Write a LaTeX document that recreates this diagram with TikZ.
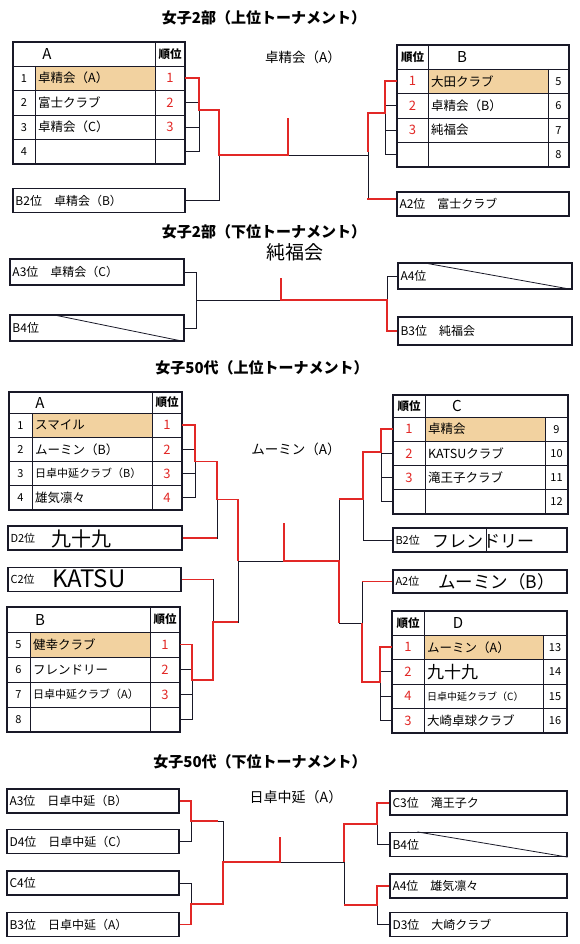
\documentclass[tikz,border=0pt]{standalone}
\usepackage{fontspec}
\setmainfont{Noto Sans CJK JP}
\usetikzlibrary{positioning}
\definecolor{ink}{RGB}{25,25,40}
\definecolor{redpen}{RGB}{226,40,38}
\definecolor{winfill}{RGB}{242,210,160}

\begin{document}
\begin{tikzpicture}[x=1pt,y=-1pt,
 frame/.style={draw=ink,line width=1.3pt},
 grid/.style={draw=ink,line width=0.9pt},
 br/.style={draw=ink,line width=0.8pt},
 hl/.style={draw=redpen,line width=1.8pt},
 slot/.style={draw=ink,line width=1.2pt,minimum height=24pt,inner xsep=2.5pt,text width=167pt,align=left,font=\fontsize{12}{14}\selectfont},
 ttl/.style={font=\fontsize{15}{17}\selectfont\bfseries},
 win/.style={font=\fontsize{13.5}{15}\selectfont},
 hand/.style={anchor=west,inner sep=0pt,font=\fontsize{19}{20}\selectfont},
 hd/.style={font=\fontsize{15}{17}\selectfont},
 rkh/.style={font=\fontsize{11.5}{13}\selectfont\bfseries},
 nm/.style={anchor=west,inner sep=0pt,font=\fontsize{12.5}{14}\selectfont},
 no/.style={font=\fontsize{11}{13}\selectfont},
 rk/.style={text=redpen,font=\fontsize{13}{15}\selectfont}]
\fill[white] (0,0) rectangle (579,944);
\useasboundingbox (0,0) rectangle (579,944);

% ---------- 女子2部 上位 ----------
\node[ttl] (t1) at (264,18) {女子2部（上位トーナメント）};
\node[win] (w1) at (303,57) {卓精会（A）};
\begin{scope}[shift={(13,42)}]
\fill[winfill] (22,24) rectangle (142,48.5);
\foreach \y in {24,48.5,73,97.5} \draw[grid] (0,\y) -- (172,\y);
\draw[grid] (22,24) -- (22,122) (142,0) -- (142,122);
\draw[frame] (0,0) rectangle (172,122);
\node[hd] (hdA) at (34,12) {A};
\node[rkh] (hdAr) at (157,12) {順位};
\foreach \t/\r/\n [count=\i, evaluate=\i as \y using 24+24.5*(\i-0.5)] in {卓精会（A）/1/1, 富士クラブ/2/2, 卓精会（C）/3/3, {}/{}/4}{
 \node[no] (na\i) at (11,\y) {\n};
 \node[nm] (ta\i) at (25,\y) {\t};
 \node[rk] (ra\i) at (157,\y) {\r};
 \coordinate (pa\i) at (172,\y);
}
\end{scope}
\begin{scope}[shift={(397,45)}]
\fill[winfill] (31,24) rectangle (151,48.5);
\foreach \y in {24,48.5,73,97.5} \draw[grid] (0,\y) -- (172,\y);
\draw[grid] (31,0) -- (31,122) (151,24) -- (151,122);
\draw[frame] (0,0) rectangle (172,122);
\node[rkh] (hdBr) at (15.5,12) {順位};
\node[hd] (hdB) at (65,12) {B};
\foreach \t/\r/\n [count=\i, evaluate=\i as \y using 24+24.5*(\i-0.5)] in {大田クラブ/1/5, 卓精会（B）/2/6, 純福会/3/7, {}/{}/8}{
 \node[rk] (rb\i) at (15.5,\y) {\r};
 \node[nm] (tb\i) at (34,\y) {\t};
 \node[no] (nb\i) at (161.5,\y) {\n};
 \coordinate (pb\i) at (0,\y);
}
\end{scope}
\node[slot] (ub2) at (99,200.5) {B2位　卓精会（B）};
\node[slot] (ua2) at (483,204) {A2位　富士クラブ};
\coordinate (ja) at (199,110);
\coordinate (jb) at (219,155);
\coordinate (jc) at (368,155);
\coordinate (jd) at (385,113);
\coordinate (s1) at (288,155);
\foreach \i in {1,...,4} \draw[br] (pa\i) -| (ja) (pb\i) -| (jd);
\draw[br] (ja) -| (jb) (ub2.east) -| (jb) (jb) -- (jc);
\draw[br] (jd) -| (jc) ([yshift=5pt]ua2.west) -| (jc);
\draw[hl] (pa1) -| (ja) -| (jb) -- (s1) -- ++(0,-37);
\draw[hl] (pb1) -| (jd) -- (jc |- jd) -- ++(0,39);
\draw[hl] ([yshift=5pt]ua2.west) -- ++(-29,0);

% ---------- 女子2部 下位 ----------
\node[ttl] (t2) at (264,232) {女子2部（下位トーナメント）};
\node[hand,anchor=center] (w2) at (295,252) {純福会};
\node[slot,text width=169pt,minimum height=26pt] (la3) at (97,272) {A3位　卓精会（C）};
\node[slot,text width=169pt,minimum height=26pt] (lb4) at (97,328) {B4位};
\node[slot,text width=169pt,minimum height=26pt] (ra4) at (485,276) {A4位};
\node[slot,text width=169pt,minimum height=28pt] (rb3) at (485,331) {B3位　純福会};
\coordinate (k1) at (196,300);
\coordinate (k2) at (387,300);
\coordinate (s2) at (281,300);
\draw[br] (la3.east) -| (k1) (lb4.east) -| (k1) (k1) -- (k2) (ra4.west) -| (k2) (rb3.west) -| (k2);
\draw[br] ([xshift=42pt]lb4.north west) -- (lb4.south east) ([xshift=24pt]ra4.north west) -- (ra4.south east);
\draw[hl] (s2) ++(0,-22) -- (s2) -- (k2) |- (rb3.west);

% ---------- 女子50代 上位 ----------
\node[ttl] (t3) at (262,368) {女子50代（上位トーナメント）};
\node[win] (w3) at (296,449) {ムーミン（A）};
\begin{scope}[shift={(9,392)}]
\fill[winfill] (23,21) rectangle (143,45.25);
\foreach \y in {21,45.25,69.5,93.75} \draw[grid] (0,\y) -- (173,\y);
\draw[grid] (23,21) -- (23,118) (143,0) -- (143,118);
\draw[frame] (0,0) rectangle (173,118);
\node[hd] (hdA3) at (31,10.5) {A};
\node[rkh] (hdA3r) at (158,10.5) {順位};
\foreach \t/\r/\n [count=\i, evaluate=\i as \y using 21+24.25*(\i-0.5)] in {スマイル/1/1, ムーミン（B）/2/2, {\fontsize{11}{12}\selectfont 日卓中延クラブ（B）}/3/3, 雄気凛々/4/4}{
 \node[no] (nc\i) at (11.5,\y) {\n};
 \node[nm] (tc\i) at (26,\y) {\t};
 \node[rk] (rc\i) at (158,\y) {\r};
 \coordinate (pc\i) at (173,\y);
}
\end{scope}
\begin{scope}[shift={(393,395)}]
\fill[winfill] (32,22) rectangle (152,46.25);
\foreach \y in {22,46.25,70.5,94.75} \draw[grid] (0,\y) -- (175,\y);
\draw[grid] (32,0) -- (32,119) (152,22) -- (152,119);
\draw[frame] (0,0) rectangle (175,119);
\node[rkh] (hdCr) at (16,11) {順位};
\node[hd] (hdC) at (64,11) {C};
\foreach \t/\r/\n [count=\i, evaluate=\i as \y using 22+24.25*(\i-0.5)] in {卓精会/1/9, KATSUクラブ/2/10, 滝王子クラブ/3/11, {}/{}/12}{
 \node[rk] (rd\i) at (16,\y) {\r};
 \node[nm] (td\i) at (35,\y) {\t};
 \node[no] (nd\i) at (163.5,\y) {\n};
 \coordinate (pd\i) at (0,\y);
}
\end{scope}
\begin{scope}[shift={(7,607)}]
\fill[winfill] (23,25) rectangle (143,50);
\foreach \y in {25,50,75,100} \draw[grid] (0,\y) -- (173,\y);
\draw[grid] (23,25) -- (23,125) (143,0) -- (143,125);
\draw[frame] (0,0) rectangle (173,125);
\node[hd] (hdB3) at (33,12.5) {B};
\node[rkh] (hdB3r) at (158,12.5) {順位};
\foreach \t/\r/\n [count=\i, evaluate=\i as \y using 25+25*(\i-0.5)] in {健幸クラブ/1/5, フレンドリー/2/6, {\fontsize{11}{12}\selectfont 日卓中延クラブ（A）}/3/7, {}/{}/8}{
 \node[no] (ne\i) at (11.5,\y) {\n};
 \node[nm] (te\i) at (26,\y) {\t};
 \node[rk] (re\i) at (158,\y) {\r};
 \coordinate (pe\i) at (173,\y);
}
\end{scope}
\begin{scope}[shift={(392,611)}]
\fill[winfill] (32,24) rectangle (151,48.5);
\foreach \y in {24,48.5,73,97.5} \draw[grid] (0,\y) -- (175,\y);
\draw[grid] (32,0) -- (32,122) (151,24) -- (151,122);
\draw[frame] (0,0) rectangle (175,122);
\node[rkh] (hdDr) at (16,12) {順位};
\node[hd] (hdD) at (66,12) {D};
\foreach \t/\r/\n [count=\i, evaluate=\i as \y using 24+24.5*(\i-0.5)] in {ムーミン（A）/1/13, {\fontsize{17}{18}\selectfont 九十九}/2/14, {\fontsize{10}{11}\selectfont 日卓中延クラブ（C）}/4/15, 大崎卓球クラブ/3/16}{
 \node[rk] (rf\i) at (16,\y) {\r};
 \node[nm] (tf\i) at (35,\y) {\t};
 \node[no] (nf\i) at (163,\y) {\n};
 \coordinate (pf\i) at (0,\y);
}
\end{scope}
\node[slot,text width=169pt,font=\fontsize{11}{13}\selectfont] (md2) at (95,538) {D2位};
\node[slot,text width=168pt,font=\fontsize{11}{13}\selectfont] (mc2) at (94.5,579.5) {C2位};
\node[slot,text width=169pt,font=\fontsize{11}{13}\selectfont] (mb2) at (480,540) {B2位};
\node[slot,text width=169pt,minimum height=23pt,font=\fontsize{11}{13}\selectfont] (ma2) at (480,581.5) {A2位};
\node[hand,font=\fontsize{20}{20}\selectfont] (md2h) at (51,539) {九十九};
\node[hand,font=\fontsize{24}{24}\selectfont] (mc2h) at (52,579) {KATSU};
\node[hand,font=\fontsize{17}{17}\selectfont] (mb2h) at (432,541) {フレンドリー};
\node[hand,font=\fontsize{17.5}{18}\selectfont] (ma2h) at (438,582) {ムーミン（B）};
\draw[grid] ([xshift=94pt]mb2.north west) -- ([xshift=94pt]mb2.south west);
\coordinate (jA) at (195,461.5);
\coordinate (jB) at (217,499.5);
\coordinate (jC) at (238,561);
\coordinate (jE) at (192,680);
\coordinate (jF) at (213,622);
\coordinate (jR) at (339,561);
\coordinate (jG) at (381,452);
\coordinate (jH) at (363,499);
\coordinate (jI) at (380,682);
\coordinate (jJ) at (362,623);
\coordinate (s3) at (284,561);
\foreach \i in {1,...,4} \draw[br] (pc\i) -| (jA) (pe\i) -| (jE) (pd\i) -| (jG) (pf\i) -| (jI);
\draw[br] (jA) -| (jB) (md2.east) -| (jB) (jB) -| (jC);
\draw[br] (jE) -| (jF) (mc2.east) -| (jF) (jF) -| (jC);
\draw[br] (jC) -- (jR);
\draw[br] (jG) -| (jH) (mb2.west) -| (jH) (jH) -| (jR);
\draw[br] (jI) -| (jJ) (ma2.west) -| (jJ) (jJ) -| (jR);
\draw[hl] (pc1) -| (jA) -| (jB) -| (jC);
\draw[hl] (md2.east) -- (jB |- md2.east);
\draw[hl] (mc2.east) -- (jF |- mc2.east);
\draw[hl] (pe1) -| (jE) -| (jF) -- (jC |- jF);
\draw[hl] (s3) ++(0,-38) -- (s3) -- (jR) -- (jR |- jJ);
\draw[hl] (pd1) -| (jG) -| (jH) -- (jR |- jH);
\draw[hl] (pf1) -| (jI) -| (jJ);
\draw[hl] (ma2.west) -- (jJ |- ma2.west);

% ---------- 女子50代 下位 ----------
\node[ttl] (t4) at (260,762) {女子50代（下位トーナメント）};
\node[hand,anchor=center,font=\fontsize{14}{14}\selectfont] (w4) at (296,797) {日卓中延（A）};
\node[slot] (qa3) at (93,801) {A3位　日卓中延（B）};
\node[slot] (qd4) at (93,841.5) {D4位　日卓中延（C）};
\node[slot] (qc4) at (93,883) {C4位};
\node[slot] (qb3) at (93,924.5) {B3位　日卓中延（A）};
\node[slot,text width=172pt] (qc3) at (478.5,803) {C3位　滝王子ク};
\node[slot,text width=172pt] (qb4) at (478.5,844.5) {B4位};
\node[slot,text width=172pt] (qa4) at (478.5,886) {A4位　雄気凛々};
\node[slot,text width=172pt] (qd3) at (478.5,924.5) {D3位　大崎クラブ};
\coordinate (m1) at (191,821);
\coordinate (m2) at (191,904);
\coordinate (m3) at (223,862);
\coordinate (m4) at (344,862);
\coordinate (m5) at (377,824);
\coordinate (m6) at (377,905);
\coordinate (s4) at (280,862);
\draw[br] (qa3.east) -| (m1) (qd4.east) -| (m1) (qc4.east) -| (m2) (qb3.east) -| (m2) (m1) -| (m3) (m2) -| (m3) (m3) -- (m4);
\draw[br] (qc3.west) -| (m5) (qb4.west) -| (m5) (qa4.west) -| (m6) (qd3.west) -| (m6) (m5) -| (m4) (m6) -| (m4);
\draw[br] ([xshift=28pt]qb4.north west) -- (qb4.south east);
\draw[hl] (qa3.east) -| (m1) -- ++(27,0);
\draw[hl] (qb3.east) -| (m2) -| (m3) -- (s4) -- ++(0,-25);
\draw[hl] (qc3.west) -| (m5) -| (m4);
\draw[hl] (qa4.west) -| (m6) -- (m4 |- m6);
\end{tikzpicture}
\end{document}
